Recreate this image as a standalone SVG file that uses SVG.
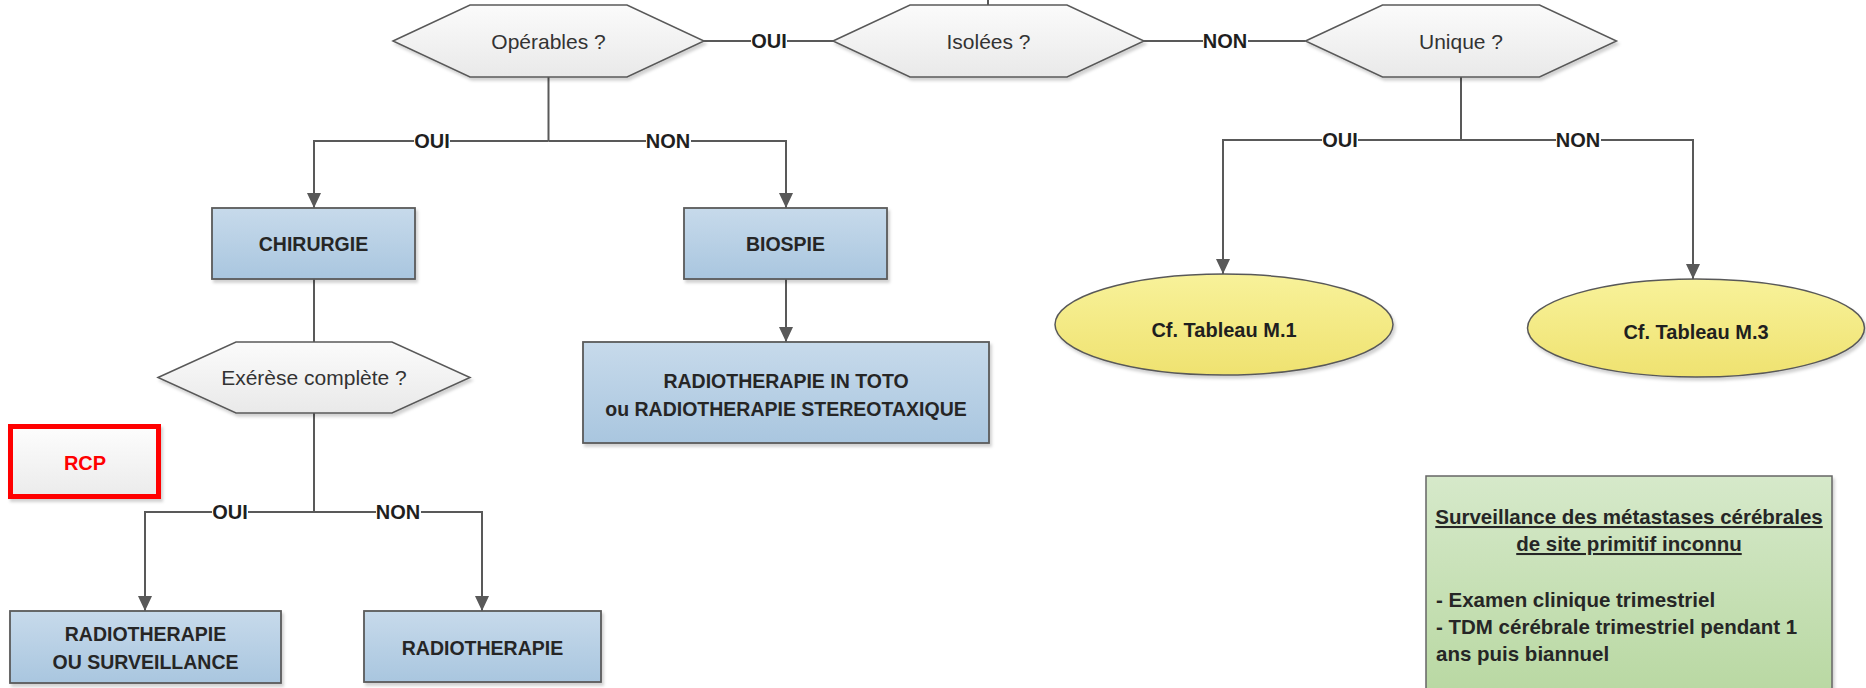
<svg xmlns="http://www.w3.org/2000/svg" width="1866" height="688" viewBox="0 0 1866 688">
<defs>
  <linearGradient id="gHex" x1="0" y1="0" x2="0" y2="1">
    <stop offset="0" stop-color="#fbfbfb"/>
    <stop offset="1" stop-color="#e9e9e9"/>
  </linearGradient>
  <linearGradient id="gBlue" x1="0" y1="0" x2="0" y2="1">
    <stop offset="0" stop-color="#c7daeb"/>
    <stop offset="1" stop-color="#a9c6df"/>
  </linearGradient>
  <linearGradient id="gYellow" x1="0" y1="0" x2="0" y2="1">
    <stop offset="0" stop-color="#f8f29a"/>
    <stop offset="1" stop-color="#efe270"/>
  </linearGradient>
  <linearGradient id="gGreen" x1="0" y1="0" x2="0" y2="1">
    <stop offset="0" stop-color="#d6e9ca"/>
    <stop offset="1" stop-color="#b7d7a0"/>
  </linearGradient>
  <linearGradient id="gWhite" x1="0" y1="0" x2="0" y2="1">
    <stop offset="0" stop-color="#fdfdfd"/>
    <stop offset="1" stop-color="#ebebeb"/>
  </linearGradient>
  <filter id="sh" x="-10%" y="-10%" width="125%" height="130%">
    <feDropShadow dx="2" dy="3" stdDeviation="1.5" flood-color="#000" flood-opacity="0.18"/>
  </filter>
  <marker id="arr" viewBox="0 -7 15 14" refX="15" refY="0" markerWidth="15" markerHeight="14" markerUnits="userSpaceOnUse" orient="auto">
    <path d="M0,-7 L15,0 L0,7 z" fill="#595959"/>
  </marker>
  <style>
    .hex { fill: url(#gHex); stroke: #595959; stroke-width: 1.5; filter: url(#sh); }
    .box { fill: url(#gBlue); stroke: #5a5a5a; stroke-width: 1.8; filter: url(#sh); }
    .ell { fill: url(#gYellow); stroke: #595959; stroke-width: 1.5; filter: url(#sh); }
    .q { font-family: "Liberation Sans", Arial, sans-serif; font-size: 21px; fill: #333333; text-anchor: middle; }
    .t { font-family: "Liberation Sans", Arial, sans-serif; font-size: 19.5px; font-weight: bold; fill: #262626; text-anchor: middle; }
    .lbl { font-family: "Liberation Sans", Arial, sans-serif; font-size: 20px; font-weight: bold; fill: #1f1f1f; text-anchor: middle; }
    .lb { fill: #ffffff; }
    .c { fill: none; stroke: #595959; stroke-width: 2; }
    .ca { fill: none; stroke: #595959; stroke-width: 2; marker-end: url(#arr); }
    .g { font-family: "Liberation Sans", Arial, sans-serif; font-size: 20.5px; font-weight: bold; fill: #262626; }
  </style>
</defs>
<rect width="1866" height="688" fill="#ffffff"/>

<g id="connectors">
  <path class="c" d="M988 0 V5"/>
  <path class="c" d="M704 41 H833"/>
  <path class="c" d="M1144 41 H1305.5"/>
  <path class="c" d="M548.5 77 V141"/>
  <path class="ca" d="M548.5 141 H314 V208"/>
  <path class="ca" d="M548.5 141 H786 V208"/>
  <path class="c" d="M314 279 V342"/>
  <path class="ca" d="M786 279 V342"/>
  <path class="c" d="M314 413 V512"/>
  <path class="ca" d="M314 512 H145 V611"/>
  <path class="ca" d="M314 512 H482 V611"/>
  <path class="c" d="M1461 77 V140"/>
  <path class="ca" d="M1461 140 H1223 V274"/>
  <path class="ca" d="M1461 140 H1693 V279"/>
  <g id="labels">
    <rect class="lb" x="751" y="30" width="36" height="22"/><text class="lbl" x="769" y="48">OUI</text>
    <rect class="lb" x="1203" y="30" width="45" height="22"/><text class="lbl" x="1225" y="48">NON</text>
    <rect class="lb" x="414" y="130" width="36" height="22"/><text class="lbl" x="432" y="148">OUI</text>
    <rect class="lb" x="646" y="130" width="45" height="22"/><text class="lbl" x="668" y="148">NON</text>
    <rect class="lb" x="1322" y="129" width="36" height="22"/><text class="lbl" x="1340" y="147">OUI</text>
    <rect class="lb" x="1556" y="129" width="45" height="22"/><text class="lbl" x="1578" y="147">NON</text>
    <rect class="lb" x="212" y="501" width="36" height="22"/><text class="lbl" x="230" y="519">OUI</text>
    <rect class="lb" x="376" y="501" width="45" height="22"/><text class="lbl" x="398" y="519">NON</text>
  </g>
</g>

<g id="operables">
  <polygon class="hex" points="393,41 470,5 627,5 704,41 627,77 470,77"/>
  <text class="q" x="548.5" y="48.5">Opérables ?</text>
</g>
<g id="isolees">
  <polygon class="hex" points="833,41 910,5 1067,5 1144,41 1067,77 910,77"/>
  <text class="q" x="988.5" y="48.5">Isolées ?</text>
</g>
<g id="unique">
  <polygon class="hex" points="1305.5,41 1382.5,5 1539.5,5 1616.5,41 1539.5,77 1382.5,77"/>
  <text class="q" x="1461" y="48.5">Unique ?</text>
</g>
<g id="chirurgie">
  <rect class="box" x="212" y="208" width="203" height="71"/>
  <text class="t" x="313.5" y="251">CHIRURGIE</text>
</g>
<g id="biospie">
  <rect class="box" x="684" y="208" width="203" height="71"/>
  <text class="t" x="785.5" y="251">BIOSPIE</text>
</g>
<g id="radio-in-toto">
  <rect class="box" x="583" y="342" width="406" height="101"/>
  <text class="t" x="786" y="388">RADIOTHERAPIE IN TOTO</text>
  <text class="t" x="786" y="416">ou RADIOTHERAPIE STEREOTAXIQUE</text>
</g>
<g id="exerese">
  <polygon class="hex" points="158,377.5 236,342 392,342 470,377.5 392,413 236,413"/>
  <text class="q" x="314" y="385">Exérèse complète ?</text>
</g>
<g id="rcp">
  <rect x="10.5" y="426.5" width="148" height="70" fill="url(#gWhite)" stroke="#ff0000" stroke-width="5" filter="url(#sh)"/>
  <text x="85" y="470" font-family="Liberation Sans, Arial, sans-serif" font-size="20" font-weight="bold" fill="#ff0000" text-anchor="middle">RCP</text>
</g>
<g id="radio-surveillance">
  <rect class="box" x="10" y="611" width="271" height="72"/>
  <text class="t" x="145.5" y="641">RADIOTHERAPIE</text>
  <text class="t" x="145.5" y="669">OU SURVEILLANCE</text>
</g>
<g id="radiotherapie">
  <rect class="box" x="364" y="611" width="237" height="71"/>
  <text class="t" x="482.5" y="655">RADIOTHERAPIE</text>
</g>
<g id="tableau-m1">
  <ellipse class="ell" cx="1224" cy="324.5" rx="169" ry="50.5"/>
  <text class="lbl" x="1224" y="337">Cf. Tableau M.1</text>
</g>
<g id="tableau-m3">
  <ellipse class="ell" cx="1696" cy="328" rx="168.5" ry="49"/>
  <text class="lbl" x="1696" y="339">Cf. Tableau M.3</text>
</g>
<g id="surveillance">
  <rect x="1426" y="476" width="406" height="230" fill="url(#gGreen)" stroke="#666666" stroke-width="1.5" filter="url(#sh)"/>
  <text class="g" x="1629" y="524" text-anchor="middle" text-decoration="underline">Surveillance des métastases cérébrales</text>
  <text class="g" x="1629" y="551" text-anchor="middle" text-decoration="underline">de site primitif inconnu</text>
  <text class="g" x="1436" y="607">- Examen clinique trimestriel</text>
  <text class="g" x="1436" y="634">- TDM cérébrale trimestriel pendant 1</text>
  <text class="g" x="1436" y="661">ans puis biannuel</text>
</g>
</svg>
